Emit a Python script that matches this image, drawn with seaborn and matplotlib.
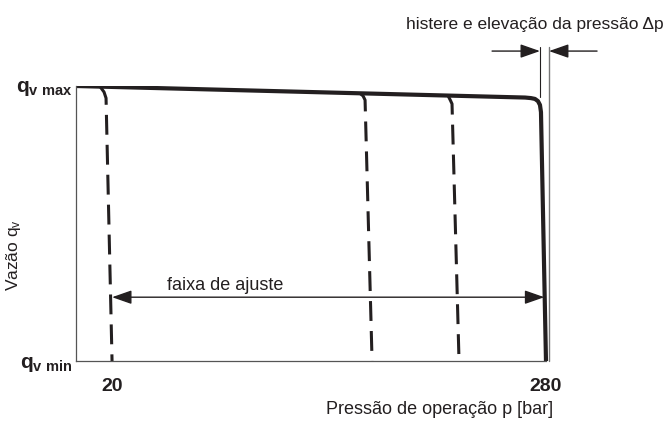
import numpy as np
import pandas as pd
import matplotlib
matplotlib.use('Agg')
import matplotlib.pyplot as plt
import seaborn as sns

# valores (pressao em bar, vazao normalizada 0..1)
p_main = [-1.6, 267.5, 271.0, 273.4, 275.2, 276.4, 277.0, 280.0]
q_main = [1.0, 0.958, 0.956, 0.953, 0.945, 0.931, 0.905, 0.0]

p_dash1 = [12.8, 15.2, 16.4, 20.0]
q_dash1 = [0.998, 0.978, 0.956, 0.0]
p_dash2 = [168.6, 170.4, 171.6, 175.8]
q_dash2 = [0.973, 0.964, 0.949, 0.0]
p_dash3 = [221.3, 222.8, 223.7, 227.9]
q_dash3 = [0.965, 0.947, 0.935, 0.0]

x_ticks = [20, 280]
x_ticklabels = ['20', '280']
y_ticks = [0, 1]
y_ticklabels = [r'$\mathbf{q}_{\mathbf{v\ min}}$', r'$\mathbf{q}_{\mathbf{v\ max}}$']

sns.set_theme(style='white')
fam = ['Liberation Sans', 'DejaVu Sans']
plt.rcParams['font.family'] = fam
plt.rcParams['mathtext.fontset'] = 'custom'
plt.rcParams['mathtext.rm'] = 'Liberation Sans'
plt.rcParams['mathtext.bf'] = 'Liberation Sans:bold'
plt.rcParams['mathtext.it'] = 'Liberation Sans'

ink = '#231f20'

fig = plt.figure(figsize=(6.68, 4.23), dpi=100)
ax = fig.add_axes([76 / 668, 1 - 361 / 423, 484 / 668, 275 / 423])

sns.lineplot(x=p_main, y=q_main, ax=ax, sort=False, estimator=None,
             color=ink, lw=3.0, solid_joinstyle='round')
for px, qy in [(p_dash1, q_dash1), (p_dash2, q_dash2), (p_dash3, q_dash3)]:
    sns.lineplot(x=px, y=qy, ax=ax, sort=False, estimator=None,
                 color=ink, lw=2.2, linestyle=(0, (6.5, 3.3)))

ax.set_xlim(-1.6, 288.4)
ax.set_ylim(0, 1)

for s in ['top', 'right']:
    ax.spines[s].set_visible(False)
for s in ['left', 'bottom']:
    ax.spines[s].set_color('#555555')
    ax.spines[s].set_linewidth(0.9)
ax.spines['bottom'].set_bounds(-1.6, 280)

ax.set_xticks(x_ticks)
ax.set_xticklabels(x_ticklabels, fontsize=14, fontweight='bold', color=ink)
ax.set_yticks(y_ticks)
ax.set_yticklabels(y_ticklabels, fontsize=15, color=ink)
ax.tick_params(length=0, axis='x', pad=12)
ax.tick_params(length=0, axis='y', pad=3)

ax.set_xlabel('Pressão de operação p [bar]', fontsize=13, color=ink)
ax.xaxis.set_label_coords(0.752, -0.145)
ax.set_ylabel(r'Vazão q$_\mathregular{v}$', fontsize=12.5, color=ink)
ax.yaxis.set_label_coords(-0.11, 0.385)

# faixa de ajuste
ax.annotate('', xy=(279.0, 0.232), xytext=(20.0, 0.232),
            arrowprops=dict(arrowstyle='<|-|>,head_length=1.0,head_width=0.35',
                            mutation_scale=12, lw=1.0, color=ink,
                            shrinkA=0, shrinkB=0))
ax.text(88, 0.245, 'faixa de ajuste', fontsize=13, color=ink, ha='center', va='bottom')

# histerese
ax.plot([276.4, 276.4], [0.96, 1.14], color=ink, lw=0.8, clip_on=False)
ax.plot([281.8, 281.8], [0.0, 1.14], color='#777777', lw=1.0, clip_on=False)
ax.annotate('', xy=(276.4, 1.127), xytext=(247.7, 1.127), annotation_clip=False,
            arrowprops=dict(arrowstyle='-|>,head_length=1.0,head_width=0.35',
                            mutation_scale=12, lw=1.0, color=ink,
                            shrinkA=0, shrinkB=0))
ax.annotate('', xy=(281.8, 1.127), xytext=(310.6, 1.127), annotation_clip=False,
            arrowprops=dict(arrowstyle='-|>,head_length=1.0,head_width=0.35',
                            mutation_scale=12, lw=1.0, color=ink,
                            shrinkA=0, shrinkB=0))
ax.text(350.5, 1.222, 'histere e elevação da pressão Δp', fontsize=12.5, color=ink,
        ha='right', va='center', clip_on=False)

fig.savefig('out.png', dpi=100)
